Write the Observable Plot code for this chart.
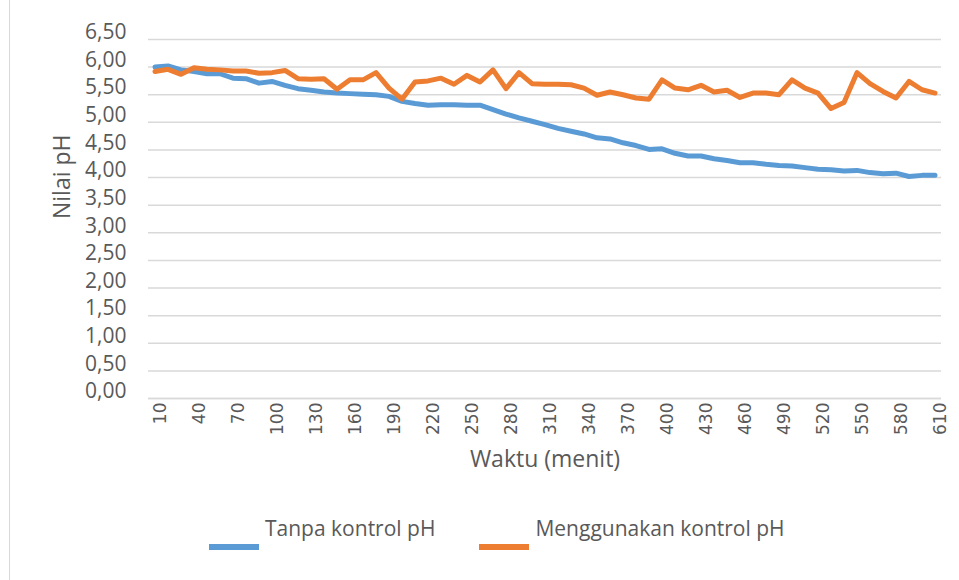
<!DOCTYPE html>
<html><head><meta charset="utf-8">
<script src="https://cdn.jsdelivr.net/npm/d3@7"></script>
<script src="https://cdn.jsdelivr.net/npm/@observablehq/plot@0.6"></script>
<style>
html,body{margin:0;padding:0;background:#fff;}
#wrap{position:relative;width:959px;height:580px;overflow:hidden;}
#frame{position:absolute;left:9px;top:0;bottom:0;border-left:1px solid #d9d9d9;}
#legend{display:flex;align-items:flex-start;padding-left:209px;padding-top:34px;font-family:"Open Sans";font-size:21px;color:#595959;}
.item{display:flex;align-items:flex-start;margin-right:44px;}
.sw{width:50px;height:6px;margin-top:30px;margin-right:6px;}
.lab{line-height:28px;white-space:nowrap;}
</style></head>
<body><div id="wrap"><div id="frame"></div><div id="chart"></div><div id="legend"></div></div>
<script>
const minutes = [10,20,30,40,50,60,70,80,90,100,110,120,130,140,150,160,170,180,190,200,210,220,230,240,250,260,270,280,290,300,310,320,330,340,350,360,370,380,390,400,410,420,430,440,450,460,470,480,490,500,510,520,530,540,550,560,570,580,590,600,610];
const tanpaKontrol = [6.00,6.02,5.95,5.92,5.88,5.88,5.80,5.79,5.71,5.74,5.67,5.61,5.58,5.55,5.53,5.52,5.51,5.50,5.47,5.38,5.34,5.31,5.32,5.32,5.31,5.31,5.23,5.15,5.08,5.02,4.96,4.89,4.84,4.79,4.72,4.70,4.63,4.58,4.51,4.52,4.44,4.39,4.39,4.34,4.31,4.27,4.27,4.24,4.22,4.21,4.18,4.15,4.14,4.12,4.13,4.09,4.07,4.08,4.02,4.04,4.04];
const denganKontrol = [5.92,5.96,5.87,5.99,5.96,5.95,5.93,5.93,5.89,5.90,5.94,5.79,5.78,5.79,5.60,5.77,5.77,5.90,5.62,5.42,5.73,5.75,5.80,5.69,5.85,5.73,5.95,5.61,5.90,5.70,5.69,5.69,5.68,5.62,5.49,5.55,5.50,5.44,5.42,5.77,5.62,5.59,5.67,5.55,5.58,5.45,5.53,5.53,5.50,5.77,5.62,5.53,5.25,5.36,5.90,5.70,5.56,5.44,5.74,5.59,5.53];
const seriesNames = ["Tanpa kontrol pH", "Menggunakan kontrol pH"];
const seriesColors = ["#5B9BD5", "#ED7D31"];
const xTicks = [10,40,70,100,130,160,190,220,250,280,310,340,370,400,430,460,490,520,550,580,610];
const yTicks = [0,0.5,1,1.5,2,2.5,3,3.5,4,4.5,5,5.5,6,6.5];
const xTitle = "Waktu (menit)";
const yTitle = "Nilai pH";

const rowsA = minutes.map((m, i) => ({m, v: tanpaKontrol[i]}));
const rowsB = minutes.map((m, i) => ({m, v: denganKontrol[i]}));
const fmt = d => d.toFixed(2).replace(".", ",");

const chart = Plot.plot({
  width: 959, height: 480,
  marginLeft: 148, marginRight: 18, marginTop: 39, marginBottom: 82,
  style: {fontFamily: "Open Sans", color: "#595959", background: "transparent"},
  x: {type: "linear", domain: [5, 615]},
  y: {domain: [0, 6.5]},
  marks: [
    Plot.gridY(yTicks, {stroke: "#d9d9d9", strokeOpacity: 1, strokeWidth: 1.5}),
    Plot.ruleY([0], {stroke: "#d9d9d9", strokeWidth: 1.5}),
    Plot.axisY(yTicks, {tickSize: 0, tickPadding: 22, tickFormat: fmt, fontSize: 21, fill: "#595959", dy: -7, label: null}),
    Plot.axisX(xTicks, {tickSize: 0, tickPadding: 4, tickRotate: -90, fontSize: 17, fontFamily: "DejaVu Sans", fill: "#595959", dx: 6, label: null}),
    Plot.line(rowsA, {x: "m", y: "v", stroke: seriesColors[0], strokeWidth: 5}),
    Plot.line(rowsB, {x: "m", y: "v", stroke: seriesColors[1], strokeWidth: 5}),
    Plot.text([yTitle], {text: d => d, frameAnchor: "left", rotate: -90, dx: -86, fontSize: 23, fill: "#595959"}),
    Plot.text([xTitle], {text: d => d, frameAnchor: "bottom", dy: 68, fontSize: 23, fill: "#595959"})
  ]
});
document.getElementById("chart").appendChild(chart);

const legend = document.getElementById("legend");
seriesNames.forEach((name, i) => {
  const item = document.createElement("div");
  item.className = "item";
  const sw = document.createElement("span");
  sw.className = "sw";
  sw.style.background = seriesColors[i];
  const lab = document.createElement("span");
  lab.className = "lab";
  lab.textContent = name;
  item.appendChild(sw); item.appendChild(lab);
  legend.appendChild(item);
});
</script></body></html>
